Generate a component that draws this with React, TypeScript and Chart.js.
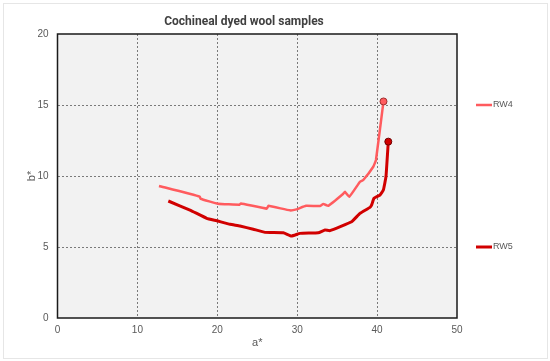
import React, { useEffect, useRef } from "react";
import { Chart, registerables } from "chart.js";

Chart.register(...registerables);

const seriesNames = ["RW4", "RW5"];
const rw4A = [12.7, 17.8, 17.9, 20.1, 22.8, 22.95, 26.2, 26.4, 29.1, 29.9, 31.1, 32.85, 33.27, 33.9, 35.77, 35.98, 36.52, 37.86, 38.27, 39.52, 39.86, 40.8];
const rw4B = [9.3, 8.55, 8.4, 8.05, 7.98, 8.07, 7.7, 7.9, 7.58, 7.65, 7.9, 7.88, 8.03, 7.9, 8.75, 8.89, 8.54, 9.6, 9.72, 10.65, 11.13, 15.25];
const rw5A = [13.87, 16.58, 18.67, 19.92, 21.6, 22.84, 24.5, 25.97, 28.26, 29.3, 30.35, 32.64, 33.48, 34.1, 36.82, 37.86, 39.11, 39.32, 39.61, 40.36, 40.78, 41.11, 41.4];
const rw5B = [8.24, 7.6, 7.02, 6.85, 6.6, 6.48, 6.25, 6.03, 6.0, 5.77, 5.96, 6.0, 6.2, 6.15, 6.78, 7.37, 7.79, 7.96, 8.43, 8.66, 9.01, 9.95, 12.42];
const xTicks = [0, 10, 20, 30, 40, 50];
const yTicks = [0, 5, 10, 15, 20];

const colors = ["#FF5B5E", "#D10000"];
const markerBorders = ["#A03030", "#700000"];

const toPoints = (a: number[], b: number[]) => a.map((v, i) => ({ x: v, y: b[i] }));

export default function App() {
  const ref = useRef<HTMLCanvasElement | null>(null);
  useEffect(() => {
    if (!ref.current) return;
    const lastOnly = (n: number, r: number) => (ctx: any) => (ctx.dataIndex === n - 1 ? r : 0);
    const decor = {
      id: "decor",
      beforeDraw(chart: any) {
        const { ctx, chartArea: ca } = chart;
        ctx.save();
        ctx.fillStyle = "#ffffff";
        ctx.fillRect(0, 0, chart.width, chart.height);
        ctx.strokeStyle = "#E6E6E6";
        ctx.lineWidth = 1;
        ctx.strokeRect(3.5, 3.5, 544, 355);
        ctx.fillStyle = "#F2F2F2";
        ctx.fillRect(ca.left, ca.top, ca.right - ca.left, ca.bottom - ca.top);
        ctx.restore();
      },
      beforeDatasetsDraw(chart: any) {
        const { ctx, chartArea: ca } = chart;
        ctx.save();
        ctx.strokeStyle = "#1a1a1a";
        ctx.lineWidth = 1.5;
        ctx.strokeRect(ca.left, ca.top, ca.right - ca.left, ca.bottom - ca.top);
        ctx.restore();
      },
      afterDraw(chart: any) {
        const { ctx } = chart;
        ctx.save();
        ctx.fillStyle = "#404040";
        ctx.font = "bold 12px 'Liberation Sans Narrow', Roboto, sans-serif";
        ctx.textAlign = "center";
        ctx.textBaseline = "middle";
        ctx.fillText("Cochineal dyed wool samples", 244, 22);
        const ys = [105, 247];
        seriesNames.forEach((name, i) => {
          ctx.strokeStyle = colors[i];
          ctx.lineWidth = i === 0 ? 2.5 : 3;
          ctx.beginPath();
          ctx.moveTo(476, ys[i]);
          ctx.lineTo(492, ys[i]);
          ctx.stroke();
          ctx.fillStyle = "#595959";
          ctx.font = "9px 'Liberation Sans', Arial, sans-serif";
          ctx.textAlign = "left";
          ctx.fillText(name, 493, ys[i]);
        });
        ctx.restore();
      },
    };
    const chart = new Chart(ref.current, {
      type: "scatter",
      data: {
        datasets: [
          {
            label: seriesNames[0],
            data: toPoints(rw4A, rw4B),
            showLine: true,
            borderColor: colors[0],
            backgroundColor: colors[0],
            borderWidth: 2.5,
            pointRadius: lastOnly(rw4A.length, 3.5),
            pointBorderColor: markerBorders[0],
            pointBorderWidth: 1,
            tension: 0.1,
          },
          {
            label: seriesNames[1],
            data: toPoints(rw5A, rw5B),
            showLine: true,
            borderColor: colors[1],
            backgroundColor: colors[1],
            borderWidth: 3,
            pointRadius: lastOnly(rw5A.length, 3.5),
            pointBorderColor: markerBorders[1],
            pointBorderWidth: 1,
            tension: 0.1,
          },
        ],
      },
      options: {
        animation: false,
        responsive: false,
        layout: { padding: { left: 0, right: 93, top: 34, bottom: 0 } },
        plugins: { legend: { display: false }, title: { display: false }, tooltip: { enabled: false } },
        scales: {
          x: {
            type: "linear",
            min: 0,
            max: 50,
            afterBuildTicks: (axis: any) => {
              axis.ticks = xTicks.map((v) => ({ value: v }));
            },
            afterFit: (axis: any) => {
              axis.height = 43;
            },
            border: { display: false, dash: [2, 2] },
            grid: {
              color: (c: any) => (c.tick && (c.tick.value === 0 || c.tick.value === 50) ? "rgba(0,0,0,0)" : "#7a7a7a"),
              lineWidth: 1,
              drawTicks: false,
            },
            ticks: { color: "#595959", font: { size: 10, family: "'Liberation Sans', Arial, sans-serif" }, padding: 6, maxRotation: 0 },
            title: {
              display: true,
              text: "a*",
              color: "#595959",
              font: { size: 11, family: "'Liberation Sans', Arial, sans-serif" },
              padding: { top: 0, bottom: 11 },
            },
          },
          y: {
            type: "linear",
            min: 0,
            max: 20,
            afterBuildTicks: (axis: any) => {
              axis.ticks = yTicks.map((v) => ({ value: v }));
            },
            afterFit: (axis: any) => {
              axis.width = 57.5;
            },
            border: { display: false, dash: [2, 2] },
            grid: {
              color: (c: any) => (c.tick && (c.tick.value === 0 || c.tick.value === 20) ? "rgba(0,0,0,0)" : "#7a7a7a"),
              lineWidth: 1,
              drawTicks: false,
            },
            ticks: { color: "#595959", font: { size: 10, family: "'Liberation Sans', Arial, sans-serif" }, padding: 9 },
            title: {
              display: true,
              text: "b*",
              color: "#595959",
              font: { size: 11, family: "'Liberation Sans', Arial, sans-serif" },
              padding: { top: 25, bottom: 0 },
            },
          },
        },
      },
      plugins: [decor],
    } as any);
    return () => chart.destroy();
  }, []);
  return (
    <div style={{ position: "fixed", left: 0, top: 0, width: 550, height: 361 }}>
      <canvas ref={ref} width={550} height={361} />
    </div>
  );
}
